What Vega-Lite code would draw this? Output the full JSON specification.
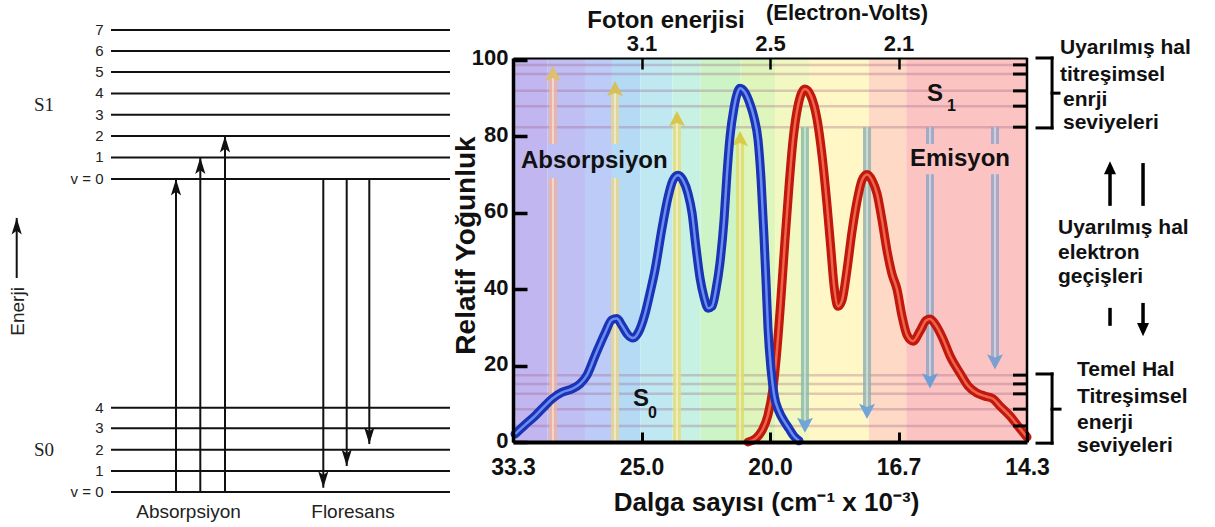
{
"$schema": "https://vega.github.io/schema/vega-lite/v6.json",
"background": "white",
"padding": {"left": 0, "top": 2, "right": 0, "bottom": 0},
"autosize": {"type": "pad"},
"config": {"view": {"stroke": null}, "font": "Liberation Sans"},
"spacing": 63,
"bounds": "flush",
"datasets": {
"levels": [{"lab":"7","e":22.0},{"lab":"6","e":21.0},{"lab":"5","e":20.0},{"lab":"4","e":18.98},{"lab":"3","e":17.96},{"lab":"2","e":16.95},{"lab":"1","e":15.93},{"lab":"v = 0","e":14.9},{"lab":"4","e":4.01},{"lab":"3","e":3.03},{"lab":"2","e":2.01},{"lab":"1","e":1.0},{"lab":"v = 0","e":0}],
"sLabels": [{"t":"S1","x":4.4,"e":18.14},{"t":"S0","x":4.4,"e":1.71}],
"enerji": [{"t":"Enerji","x":1.8,"e":8.6}],
"arrowsL": [{"x":1.67,"from":10.19,"to":13.05,"dir":"up"},{"x":17.6,"from":0,"to":14.9,"dir":"up"},{"x":20.03,"from":0,"to":15.93,"dir":"up"},{"x":22.5,"from":0,"to":16.95,"dir":"up"},{"x":32.33,"from":14.9,"to":0.2,"dir":"down"},{"x":34.67,"from":14.9,"to":1.24,"dir":"down"},{"x":36.93,"from":14.9,"to":2.29,"dir":"down"}],
"captL": [{"t":"Absorpsiyon","x":18.85,"e":-1.24},{"t":"Floresans","x":35.3,"e":-1.24}],
"bands": [{"b":"b01","l0":300,"l1":327},{"b":"b02","l0":327,"l1":356},{"b":"b03","l0":356,"l1":377},{"b":"b04","l0":377,"l1":399},{"b":"b05","l0":399,"l1":424},{"b":"b06","l0":424,"l1":446},{"b":"b07","l0":446,"l1":477},{"b":"b08","l0":477,"l1":504},{"b":"b09","l0":504,"l1":531},{"b":"b10","l0":531,"l1":577},{"b":"b11","l0":577,"l1":606},{"b":"b12","l0":606,"l1":700}],
"lev": [{"v":98.7},{"v":96.3},{"v":91.9},{"v":87.9},{"v":82.4},{"v":17.5},{"v":15.2},{"v":12.6},{"v":8.6},{"v":4.2}],
"frame": [{"edge":700}],
"shafts": [{"a":"a1","lam":331.1,"y0":0,"y1":69.1},{"a":"a1","lam":331.1,"y0":78,"y1":95.5},{"a":"a2","lam":379.4,"y0":0,"y1":69.1},{"a":"a2","lam":379.4,"y0":78,"y1":91.5},{"a":"a3","lam":427.6,"y0":0,"y1":83.5},{"a":"a4","lam":476.7,"y0":0,"y1":78.3},{"a":"e1","lam":527.2,"y0":82.4,"y1":5.5},{"a":"e2","lam":575.5,"y0":82.4,"y1":9},{"a":"e3","lam":624.5,"y0":82.4,"y1":78},{"a":"e3","lam":624.5,"y0":70.1,"y1":17},{"a":"e4","lam":675.1,"y0":82.4,"y1":78},{"a":"e4","lam":675.1,"y0":70.1,"y1":22}],
"heads": [{"a":"a1","lam":331.1,"tip":98.4,"dir":"up"},{"a":"a2","lam":379.4,"tip":94.5,"dir":"up"},{"a":"a3","lam":427.6,"tip":86.6,"dir":"up"},{"a":"a4","lam":476.7,"tip":81.4,"dir":"up"},{"a":"e1","lam":527.2,"tip":2.4,"dir":"down"},{"a":"e2","lam":575.5,"tip":6.0,"dir":"down"},{"a":"e3","lam":624.5,"tip":14,"dir":"down"},{"a":"e4","lam":675.1,"tip":19,"dir":"down"}],
"absorb": [{"lam":301.6,"v":2.1},{"lam":309.3,"v":4.5},{"lam":317.1,"v":6.8},{"lam":324.9,"v":9.5},{"lam":330.4,"v":11.3},{"lam":338.1,"v":13.0},{"lam":345.9,"v":13.9},{"lam":352.1,"v":15.2},{"lam":357.6,"v":17.5},{"lam":363.8,"v":22.5},{"lam":371.6,"v":28.5},{"lam":377.0,"v":32.0},{"lam":380.9,"v":32.3},{"lam":384.8,"v":30.5},{"lam":389.5,"v":28.0},{"lam":393.4,"v":27.2},{"lam":397.3,"v":28.5},{"lam":402.7,"v":33.5},{"lam":406.6,"v":39.0},{"lam":410.5,"v":45.0},{"lam":416.0,"v":56.0},{"lam":420.6,"v":64.0},{"lam":424.5,"v":68.5},{"lam":428.4,"v":69.8},{"lam":432.3,"v":68.5},{"lam":436.2,"v":65.0},{"lam":439.3,"v":60.0},{"lam":442.4,"v":51.0},{"lam":445.5,"v":43.0},{"lam":448.6,"v":38.0},{"lam":451.8,"v":35.0},{"lam":454.9,"v":35.5},{"lam":458.0,"v":40.0},{"lam":461.1,"v":47.0},{"lam":464.2,"v":58.0},{"lam":466.5,"v":70.0},{"lam":468.9,"v":80.0},{"lam":472.0,"v":87.5},{"lam":474.3,"v":91.0},{"lam":476.7,"v":92.6},{"lam":480.5,"v":91.5},{"lam":484.4,"v":88.5},{"lam":487.5,"v":85.0},{"lam":490.7,"v":79.0},{"lam":493.0,"v":69.0},{"lam":495.3,"v":54.0},{"lam":496.9,"v":42.0},{"lam":498.4,"v":30.0},{"lam":500.8,"v":19.0},{"lam":503.1,"v":12.5},{"lam":507.0,"v":8.0},{"lam":510.9,"v":5.5},{"lam":514.8,"v":3.5},{"lam":518.7,"v":1.5},{"lam":522.6,"v":0.3}],
"emit": [{"lam":482.9,"v":0},{"lam":489.1,"v":1},{"lam":493.8,"v":3},{"lam":498.4,"v":7},{"lam":502.3,"v":14},{"lam":505.4,"v":24},{"lam":508.6,"v":38},{"lam":511.7,"v":53},{"lam":514.8,"v":67},{"lam":517.9,"v":79},{"lam":521.8,"v":88},{"lam":527.2,"v":92.4},{"lam":531.9,"v":90.5},{"lam":536.6,"v":84.5},{"lam":540.5,"v":75},{"lam":544.4,"v":62},{"lam":547.5,"v":50},{"lam":549.8,"v":41},{"lam":552.9,"v":35.5},{"lam":556.0,"v":37},{"lam":559.9,"v":45},{"lam":563.8,"v":55},{"lam":567.7,"v":63},{"lam":571.6,"v":68.5},{"lam":575.5,"v":70},{"lam":579.4,"v":68.5},{"lam":583.3,"v":65},{"lam":587.2,"v":58},{"lam":591.1,"v":50},{"lam":594.9,"v":44},{"lam":598.8,"v":40},{"lam":602.7,"v":33},{"lam":606.6,"v":28},{"lam":611.3,"v":26.4},{"lam":616.7,"v":29},{"lam":621.4,"v":31.8},{"lam":624.5,"v":32.2},{"lam":629.2,"v":30.5},{"lam":634.6,"v":27},{"lam":640.1,"v":22.5},{"lam":647.9,"v":18},{"lam":654.1,"v":14.7},{"lam":661.1,"v":12.8},{"lam":667.3,"v":12},{"lam":673.5,"v":11.3},{"lam":679.0,"v":9.4},{"lam":686.8,"v":6.8},{"lam":694.6,"v":3.5},{"lam":700.0,"v":1.3}],
"bigLabels": [{"t":"Absorpsiyon","lam":306.2,"v":71.7},{"t":"Emisyon","lam":608.9,"v":72.2},{"t":"S","lam":622.2,"v":89.2},{"t":"S","lam":393.4,"v":9.4}],
"subLabels": [{"t":"1","lam":637.7,"v":86.6},{"t":"0","lam":405.1,"v":6.3}],
"topTitle": [{"t":"Foton enerjisi","lam":419.1,"v":108.3}],
"topUnit": [{"t":"(Electron-Volts)","lam":559.9,"v":110.4}],
"notes": [{"t":"Uyarılmış hal","lam":725.7,"v":101.5},{"t":"titreşimsel","lam":725.7,"v":94.5},{"t":"enrji","lam":728,"v":87.9},{"t":"seviyeleri","lam":728,"v":81.9},{"t":"Uyarılmış hal","lam":724.1,"v":54.4},{"t":"elektron","lam":724.1,"v":47.9},{"t":"geçişleri","lam":724.1,"v":41.6},{"t":"Temel Hal","lam":738.9,"v":17.3},{"t":"Titreşimsel","lam":738.9,"v":10.2},{"t":"enerji","lam":738.9,"v":3.4},{"t":"seviyeleri","lam":738.9,"v":-2.6}],
"brackets": [{"x0":707.8,"x1":719.5,"y0":100.5,"y1":100.5},{"x0":719.5,"x1":719.5,"y0":100.5,"y1":82.2},{"x0":707.8,"x1":719.5,"y0":82.2,"y1":82.2},{"x0":719.5,"x1":724.9,"y0":91.3,"y1":91.3},{"x0":707.8,"x1":719.5,"y0":17.8,"y1":17.8},{"x0":719.5,"x1":719.5,"y0":17.8,"y1":-0.3},{"x0":707.8,"x1":719.5,"y0":-0.3,"y1":-0.3},{"x0":719.5,"x1":725.7,"y0":8.6,"y1":8.6}],
"annShafts": [{"lam":764.6,"y0":61.8,"y1":71},{"lam":790.3,"y0":61.8,"y1":73},{"lam":764.6,"y0":30.4,"y1":35.1},{"lam":790.3,"y0":36.4,"y1":30}],
"annHeads": [{"lam":764.6,"tip":73.5,"dir":"up"},{"lam":790.3,"tip":27.7,"dir":"down"}]
},
"hconcat": [
{
"width": 450, "height": 384,
"layer": [
{"data":{"name":"levels"},"mark":{"type":"rule","color":"#111","strokeWidth":2},
 "encoding":{"x":{"datum":11.1,"type":"quantitative","scale":{"domain":[0,45],"nice":false,"zero":false},"axis":null},"x2":{"datum":45},"y":{"field":"e","type":"quantitative","scale":{"domain":[2.381,20.667],"nice":false,"zero":false},"axis":null}}},
{"data":{"name":"levels"},"mark":{"type":"text","align":"right","baseline":"middle","fontSize":15,"color":"#222"},
 "encoding":{"x":{"datum":10.35,"type":"quantitative","axis":null},"y":{"field":"e","type":"quantitative","axis":null},"text":{"field":"lab"}}},
{"data":{"name":"sLabels"},"mark":{"type":"text","align":"center","baseline":"alphabetic","fontSize":19,"font":"Liberation Serif","color":"#222"},
 "encoding":{"x":{"field":"x","type":"quantitative","axis":null},"y":{"field":"e","type":"quantitative","axis":null},"text":{"field":"t"}}},
{"data":{"name":"enerji"},"mark":{"type":"text","align":"center","baseline":"middle","angle":270,"fontSize":19,"color":"#222"},
 "encoding":{"x":{"field":"x","type":"quantitative","axis":null},"y":{"field":"e","type":"quantitative","axis":null},"text":{"field":"t"}}},
{"data":{"name":"arrowsL"},"mark":{"type":"rule","color":"#111","strokeWidth":2},
 "encoding":{"x":{"field":"x","type":"quantitative","axis":null},"y":{"field":"from","type":"quantitative","axis":null},"y2":{"field":"to"}}},
{"data":{"name":"arrowsL"},"transform":[{"filter":"datum.dir === 'up'"}],"mark":{"type":"point","shape":"M0,0 L0.34,1.1 L0,0.85 L-0.34,1.1 Z","size":900,"filled":true,"color":"#111","opacity":1,"strokeWidth":0},
 "encoding":{"x":{"field":"x","type":"quantitative","axis":null},"y":{"field":"to","type":"quantitative","axis":null}}},
{"data":{"name":"arrowsL"},"transform":[{"filter":"datum.dir === 'down'"}],"mark":{"type":"point","shape":"M0,0 L0.34,-1.1 L0,-0.85 L-0.34,-1.1 Z","size":900,"filled":true,"color":"#111","opacity":1,"strokeWidth":0},
 "encoding":{"x":{"field":"x","type":"quantitative","axis":null},"y":{"field":"to","type":"quantitative","axis":null}}},
{"data":{"name":"captL"},"mark":{"type":"text","align":"center","baseline":"alphabetic","fontSize":19,"color":"#222"},
 "encoding":{"x":{"field":"x","type":"quantitative","axis":null},"y":{"field":"e","type":"quantitative","axis":null},"text":{"field":"t"}}}
]
},
{
"width": 514, "height": 384,
"resolve": {"axis": {"x": "independent", "y": "independent"}},
"layer": [
{"data":{"name":"bands"},"mark":{"type":"rect"},
 "encoding":{"x":{"field":"l0","type":"quantitative","scale":{"domain":[300,700],"nice":false,"zero":false},
   "axis":{"orient":"bottom","values":[300,400,500,600,700],"labelExpr":"format(10000/datum.value,'.1f')","labelFont":"Liberation Sans","labelFontWeight":"bold","labelFontSize":23,"labelColor":"#111","labelPadding":24,"labelFlush":false,"labelOverlap":false,"tickSize":-10,"tickWidth":3,"tickColor":"#000","domainColor":"#000","domainWidth":4,"grid":false,"title":"Dalga sayısı  (cm⁻¹ x 10⁻³)","titleFont":"Liberation Sans","titleFontWeight":"bold","titleFontSize":26,"titleColor":"#111","titleX":253,"titleY":68,"titleAlign":"center","titleBaseline":"alphabetic","zindex":1}},
  "x2":{"field":"l1"},
  "fill":{"field":"b","type":"nominal","scale":{"domain":["b01","b02","b03","b04","b05","b06","b07","b08","b09","b10","b11","b12"],"range":["#c2b6f0","#c0bff4","#bccbf7","#b4daf6","#bfe8f3","#c6f1e3","#cdf4c6","#def6bb","#f2f8c2","#fff7c6","#fdd9c6","#fbc4c2"]},"legend":null}}},
{"data":{"name":"lev"},"mark":{"type":"rule","color":"#9a5a80","opacity":0.3,"strokeWidth":2.5},
 "encoding":{"y":{"field":"v","type":"quantitative","scale":{"domain":[0,100.5],"nice":false,"zero":false},
   "axis":{"values":[0,20,40,60,80,100],"labelFont":"Liberation Sans","labelFontWeight":"bold","labelFontSize":22,"labelColor":"#111","labelPadding":19,"labelOffset":-2,"tickSize":-14,"tickWidth":3.5,"tickColor":"#000","domainColor":"#000","domainWidth":3.5,"grid":false,"title":"Relatif Yoğunluk","titleFont":"Liberation Sans","titleFontWeight":"bold","titleFontSize":28,"titleColor":"#111","titleX":-47,"titleY":187,"titleAngle":270,"titleAlign":"center","titleBaseline":"middle","zindex":1}}}},
{"data":{"name":"shafts"},"mark":{"type":"rule","strokeWidth":8,"opacity":0.85},
 "encoding":{"x":{"field":"lam","type":"quantitative","axis":null},"y":{"field":"y0","type":"quantitative","axis":null},"y2":{"field":"y1"},
  "stroke":{"field":"a","type":"nominal","scale":{"domain":["a1","a2","a3","a4","e1","e2","e3","e4"],"range":["#efb39c","#e6d48e","#e4dd7c","#dcdc6c","#8cbca9","#93b2b0","#93a6c2","#98a5c8"]},"legend":null}}},
{"data":{"name":"shafts"},"mark":{"type":"rule","strokeWidth":2,"color":"#ffffff","opacity":0.45},
 "encoding":{"x":{"field":"lam","type":"quantitative","axis":null},"y":{"field":"y0","type":"quantitative","axis":null},"y2":{"field":"y1"}}},
{"data":{"name":"heads"},"transform":[{"filter":"datum.dir === 'up'"}],"mark":{"type":"point","shape":"M0,0 L0.5,0.95 L0,0.75 L-0.5,0.95 Z","size":1024,"filled":true,"opacity":1,"strokeWidth":0},
 "encoding":{"x":{"field":"lam","type":"quantitative","axis":null},"y":{"field":"tip","type":"quantitative","axis":null},
  "color":{"field":"a","type":"nominal","scale":{"domain":["a1","a2","a3","a4","e1","e2","e3","e4"],"range":["#dcc070","#d6c05a","#d8c650","#d6cc48","#6fa6d6","#6fa6d6","#6d9fd6","#7a9fd0"]},"legend":null}}},
{"data":{"name":"heads"},"transform":[{"filter":"datum.dir === 'down'"}],"mark":{"type":"point","shape":"M0,0 L0.5,-0.95 L0,-0.75 L-0.5,-0.95 Z","size":1024,"filled":true,"opacity":1,"strokeWidth":0},
 "encoding":{"x":{"field":"lam","type":"quantitative","axis":null},"y":{"field":"tip","type":"quantitative","axis":null},
  "color":{"field":"a","type":"nominal","legend":null}}},
{"data":{"name":"emit"},"mark":{"type":"line","color":"#c0180c","strokeWidth":9,"interpolate":"monotone","strokeCap":"round"},
 "encoding":{"x":{"field":"lam","type":"quantitative",
   "axis":{"orient":"top","values":[400,500,600],"labelExpr":"format(1239.84/datum.value,'.1f')","labelFont":"Liberation Sans","labelFontWeight":"bold","labelFontSize":22,"labelColor":"#111","labelPadding":13.5,"labelFlush":false,"labelOverlap":false,"tickSize":-11,"tickWidth":2.5,"tickColor":"#000","domainColor":"#000","domainWidth":2,"grid":false,"title":null,"zindex":1}},
  "y":{"field":"v","type":"quantitative","axis":null}}},
{"data":{"name":"emit"},"mark":{"type":"line","color":"#f0644c","strokeWidth":2.5,"interpolate":"monotone"},
 "encoding":{"x":{"field":"lam","type":"quantitative","axis":null},"y":{"field":"v","type":"quantitative","axis":null}}},
{"data":{"name":"absorb"},"mark":{"type":"line","color":"#1934b4","strokeWidth":9,"interpolate":"monotone","strokeCap":"round"},
 "encoding":{"x":{"field":"lam","type":"quantitative","axis":null},"y":{"field":"v","type":"quantitative","axis":null}}},
{"data":{"name":"absorb"},"mark":{"type":"line","color":"#6d8cf2","strokeWidth":2.5,"interpolate":"monotone"},
 "encoding":{"x":{"field":"lam","type":"quantitative","axis":null},"y":{"field":"v","type":"quantitative","axis":null}}},
{"data":{"name":"frame"},"mark":{"type":"rule","color":"#000","strokeWidth":2.5},
 "encoding":{"x":{"field":"edge","type":"quantitative","axis":null}}},
{"data":{"name":"lev"},"mark":{"type":"rule","color":"#000","strokeWidth":3},
 "encoding":{"x":{"datum":689.1,"type":"quantitative","axis":null},"x2":{"datum":700},"y":{"field":"v","type":"quantitative","axis":null}}},
{"data":{"name":"bigLabels"},"mark":{"type":"text","align":"left","baseline":"alphabetic","fontSize":24,"fontWeight":"bold","color":"#111"},
 "encoding":{"x":{"field":"lam","type":"quantitative","axis":null},"y":{"field":"v","type":"quantitative","axis":null},"text":{"field":"t"}}},
{"data":{"name":"subLabels"},"mark":{"type":"text","align":"left","baseline":"alphabetic","fontSize":16,"fontWeight":"bold","color":"#111"},
 "encoding":{"x":{"field":"lam","type":"quantitative","axis":null},"y":{"field":"v","type":"quantitative","axis":null},"text":{"field":"t"}}},
{"data":{"name":"topTitle"},"mark":{"type":"text","align":"center","baseline":"alphabetic","fontSize":24,"fontWeight":"bold","color":"#111"},
 "encoding":{"x":{"field":"lam","type":"quantitative","axis":null},"y":{"field":"v","type":"quantitative","axis":null},"text":{"field":"t"}}},
{"data":{"name":"topUnit"},"mark":{"type":"text","align":"center","baseline":"alphabetic","fontSize":22,"fontWeight":"bold","color":"#111"},
 "encoding":{"x":{"field":"lam","type":"quantitative","axis":null},"y":{"field":"v","type":"quantitative","axis":null},"text":{"field":"t"}}},
{"data":{"name":"brackets"},"mark":{"type":"rule","color":"#000","strokeWidth":3,"strokeCap":"square"},
 "encoding":{"x":{"field":"x0","type":"quantitative","axis":null},"x2":{"field":"x1"},"y":{"field":"y0","type":"quantitative","axis":null},"y2":{"field":"y1"}}},
{"data":{"name":"notes"},"mark":{"type":"text","align":"left","baseline":"alphabetic","fontSize":21,"fontWeight":"bold","color":"#111"},
 "encoding":{"x":{"field":"lam","type":"quantitative","axis":null},"y":{"field":"v","type":"quantitative","axis":null},"text":{"field":"t"}}},
{"data":{"name":"annShafts"},"mark":{"type":"rule","color":"#000","strokeWidth":3.5},
 "encoding":{"x":{"field":"lam","type":"quantitative","axis":null},"y":{"field":"y0","type":"quantitative","axis":null},"y2":{"field":"y1"}}},
{"data":{"name":"annHeads"},"transform":[{"filter":"datum.dir === 'up'"}],"mark":{"type":"point","shape":"M0,0 L0.5,1.1 L-0.5,1.1 Z","size":576,"filled":true,"color":"#000","opacity":1,"strokeWidth":0},
 "encoding":{"x":{"field":"lam","type":"quantitative","axis":null},"y":{"field":"tip","type":"quantitative","axis":null}}},
{"data":{"name":"annHeads"},"transform":[{"filter":"datum.dir === 'down'"}],"mark":{"type":"point","shape":"M0,0 L0.5,-1.1 L-0.5,-1.1 Z","size":576,"filled":true,"color":"#000","opacity":1,"strokeWidth":0},
 "encoding":{"x":{"field":"lam","type":"quantitative","axis":null},"y":{"field":"tip","type":"quantitative","axis":null}}}
]
}
]
}
